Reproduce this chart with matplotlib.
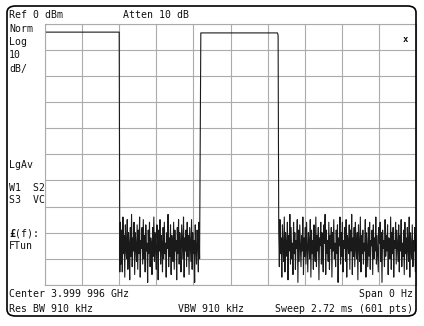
import numpy as np
import matplotlib
matplotlib.use("Agg")
import matplotlib.pyplot as plt
from matplotlib.patches import FancyBboxPatch

# trace levels (dBm), 601 sweep points
pulse1_level = -3.3
pulse2_level = -3.6
pulse1_len = 121
pulse2_len = 125
edge_level = -49.0
corner_level = -4.6

noise_a = [-95, -76, -92, -79, -95, -74, -88, -81, -97, -77, -86, -90, -75, -94, -80, -84, -98, -78, -89, -73,
           -93, -82, -87, -76, -96, -80, -85, -91, -77, -94, -79, -88, -74, -97, -83, -86, -78, -92, -75, -90,
           -81, -95, -77, -87, -84, -99, -79, -88, -76, -93, -82, -85, -96, -78, -89, -74, -91, -80, -86, -94,
           -77, -83, -98, -79, -87, -75, -92, -81, -85, -95, -78, -90, -76, -88, -84, -97, -80, -86, -73, -93,
           -82, -89, -77, -96, -81, -85, -91, -76, -94, -79, -87, -83, -98, -78, -88, -75, -92, -80, -86, -95,
           -77, -84, -90, -74, -97, -82, -87, -79, -93, -76, -89, -81, -96, -78, -85, -91, -75, -94, -80, -88,
           -83, -99, -77, -86, -92, -79, -84, -95, -76, -90]

noise_b = [-79, -93, -75, -88, -82, -97, -77, -86, -91, -74, -95, -80, -85, -89, -76, -98, -81, -87, -73, -92,
           -78, -90, -84, -96, -76, -88, -80, -94, -83, -86, -75, -99, -79, -91, -77, -85, -93, -81, -87, -74,
           -96, -82, -89, -78, -92, -76, -86, -95, -80, -84, -90, -75, -97, -79, -88, -83, -94, -77, -86, -91,
           -74, -93, -81, -87, -78, -98, -82, -85, -76, -92, -80, -89, -95, -77, -84, -73, -96, -79, -88, -83,
           -91, -76, -94, -81, -86, -78, -97, -80, -87, -75, -90, -84, -93, -79, -88, -77, -99, -82, -85, -74,
           -92, -80, -89, -76, -95, -83, -86, -78, -91, -75, -97, -81, -84, -88, -77, -94, -79, -87, -73, -96,
           -82, -89, -78, -93, -76, -86, -90, -80, -98, -77, -85, -91, -74, -95, -81, -88, -79, -92, -84, -87,
           -75, -97, -80, -86, -93, -78, -89, -76, -94, -83, -85, -79, -96, -77, -90, -82, -87, -74, -92, -81,
           -88, -95, -78, -84, -76, -91, -80, -99, -79, -86, -83, -93, -75, -89, -81, -87, -77, -96, -82, -85,
           -90, -74, -94, -80, -88, -78, -97, -83, -86, -76, -92, -79, -85, -91, -77, -95, -81, -87, -75, -93,
           -84, -89, -79, -96, -76, -88, -82, -94, -78, -86, -91, -74, -97, -80, -85, -90, -77, -93, -83, -87,
           -78, -95, -81]

trace = np.concatenate([np.full(pulse1_len, pulse1_level), noise_a, [edge_level],
                        np.full(pulse2_len, pulse2_level), [corner_level], noise_b])
pts = np.arange(len(trace))

W, H = 424, 326
fig = plt.figure(figsize=(W / 100, H / 100), dpi=100)
fig.patch.set_facecolor("white")

ax = fig.add_axes([45 / W, 1 - 285 / H, (416 - 45) / W, (285 - 23.5) / H])
ax.set_xlim(0, 600)
ax.set_ylim(-100, 0)
ax.set_xticks(np.linspace(0, 600, 11))
ax.set_yticks(np.linspace(-100, 0, 11))
ax.grid(True, color="#ababab", lw=0.8)
ax.tick_params(length=0, labelbottom=False, labelleft=False)
for s in ax.spines.values():
    s.set_color("#ababab")
    s.set_linewidth(0.8)
ax.plot(pts, trace, color="#1a1a1a", lw=0.8)

# outer rounded frame
frame = FancyBboxPatch((7 / W, 1 - 316 / H), (416 - 7) / W, (316 - 6) / H,
                       boxstyle="round,pad=0,rounding_size=0.02", transform=fig.transFigure,
                       fill=False, ec="black", lw=1.2)
fig.patches.append(frame)

mono = dict(family="DejaVu Sans Mono", fontsize=7.1, color="#111111", va="center")

def t(x, y, s, **kw):
    fig.text(x / W, 1 - y / H, s, **{**mono, **kw})

t(9, 15, "Ref 0 dBm")
t(123, 15, "Atten 10 dB")
t(9, 28.5, "Norm")
t(9, 42, "Log")
t(9, 55.5, "10")
t(9, 69, "dB/")
t(9, 165, "LgAv")
t(9, 188, "W1  S2")
t(9, 200, "S3  VC")
t(9, 234, "£", fontweight="bold")
t(15, 234, "(f):")
t(9, 246, "FTun")
t(9, 294, "Center 3.999 996 GHz")
t(413, 294, "Span 0 Hz", ha="right")
t(9, 309, "Res BW 910 kHz")
t(178, 309, "VBW 910 kHz")
t(413, 309, "Sweep 2.72 ms (601 pts)", ha="right")
t(405, 39, "x", ha="center", fontweight="bold", fontsize=6.5)

fig.savefig("out.png", dpi=100)
